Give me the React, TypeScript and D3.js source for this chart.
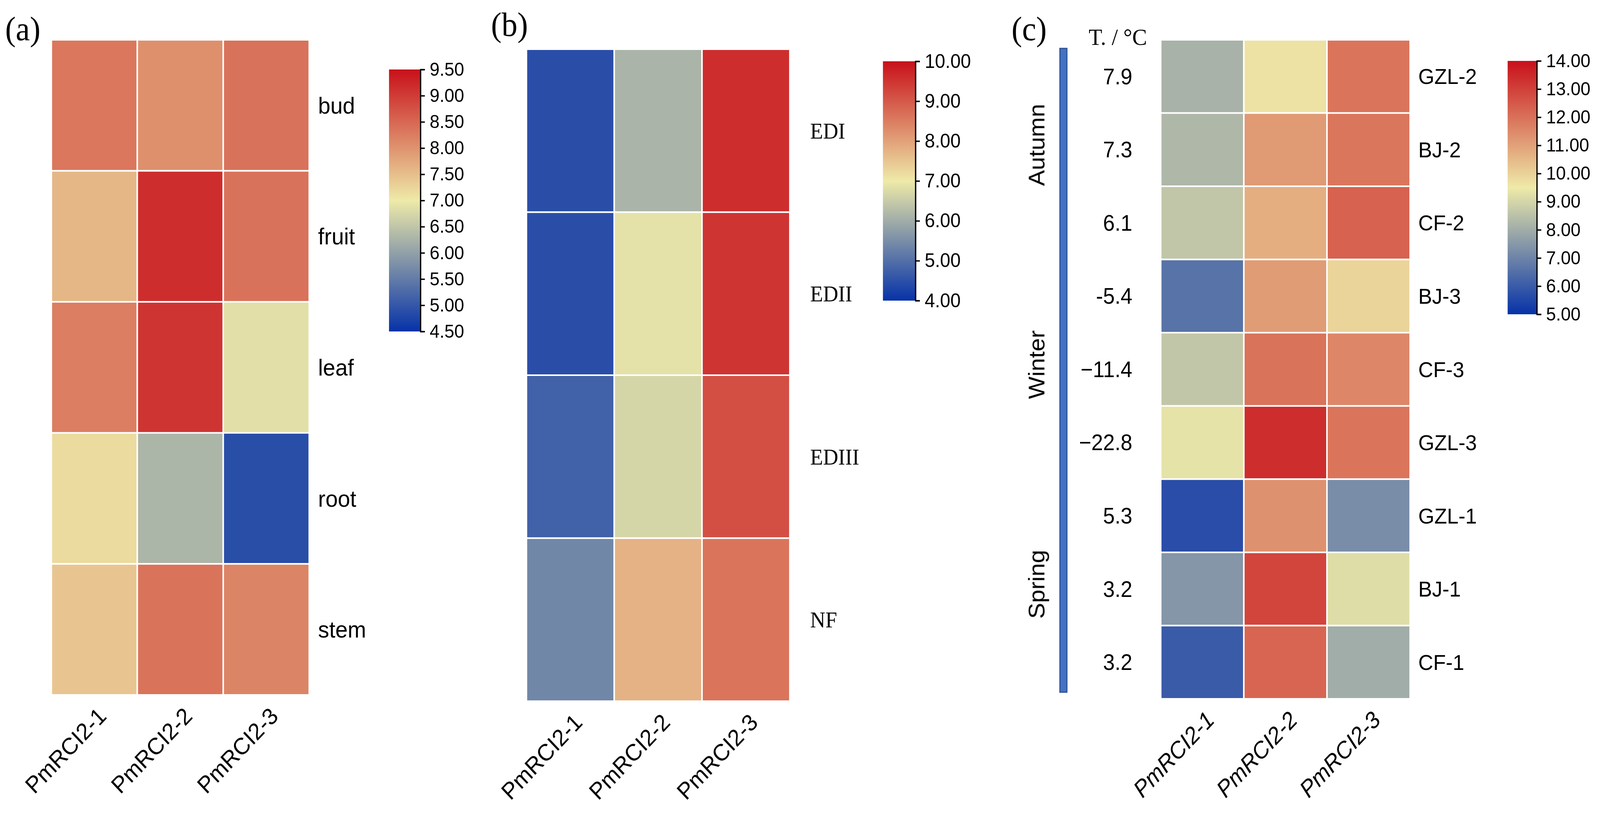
import { useEffect, useRef } from 'react';
import * as d3 from 'd3';

// column categories shared by all three panels
const genes = ['PmRCI2-1', 'PmRCI2-2', 'PmRCI2-3'];

// (a) tissues
const tissues = ['bud', 'fruit', 'leaf', 'root', 'stem'];
const tissueValues = [
  [8.32, 8.03, 8.38],
  [7.58, 9.16, 8.38],
  [8.24, 9.08, 6.87],
  [7.17, 6.29, 4.88],
  [7.42, 8.35, 8.17],
];
const tissueDomain = [4.5, 9.5];
const tissueTicks = [4.5, 5.0, 5.5, 6.0, 6.5, 7.0, 7.5, 8.0, 8.5, 9.0, 9.5];

// (b) developmental stages
const stages = ['EDI', 'EDII', 'EDIII', 'NF'];
const stageValues = [
  [4.46, 6.12, 9.59],
  [4.46, 6.87, 9.5],
  [4.76, 6.68, 9.13],
  [5.38, 7.77, 8.61],
];
const stageDomain = [4, 10];
const stageTicks = [4, 5, 6, 7, 8, 9, 10];

// (c) sampling sites / seasons
const sites = ['GZL-2', 'BJ-2', 'CF-2', 'BJ-3', 'CF-3', 'GZL-3', 'GZL-1', 'BJ-1', 'CF-1'];
const siteTemps = ['7.9', '7.3', '6.1', '-5.4', '\u221211.4', '\u221222.8', '5.3', '3.2', '3.2'];
const siteValues = [
  [8.14, 9.67, 11.92],
  [8.26, 11.15, 11.9],
  [8.63, 10.74, 12.31],
  [6.6, 11.11, 9.95],
  [8.63, 11.96, 11.54],
  [9.34, 13.4, 11.92],
  [5.67, 11.34, 7.23],
  [7.45, 12.9, 9.18],
  [6.0, 12.24, 8.0],
];
const seasons = ['Autumn', 'Winter', 'Spring'];
const seasonSites = [
  ['GZL-2', 'BJ-2', 'CF-2'],
  ['BJ-3', 'CF-3', 'GZL-3'],
  ['GZL-1', 'BJ-1', 'CF-1'],
];
const siteDomain = [5, 14];
const siteTicks = [5, 6, 7, 8, 9, 10, 11, 12, 13, 14];

const W = 4331;
const H = 2085;
const SANS = '"Liberation Sans", Arial, sans-serif';
const SERIF = '"Liberation Serif", "Times New Roman", serif';
const STOPS = ['#0632a8', '#eeeaa8', '#c8101a'];

type Sel = d3.Selection<SVGGElement, unknown, null, undefined>;

interface PanelOpts {
  id: string;
  x: number;
  y: number;
  w: number;
  h: number;
  rows: string[];
  values: number[][];
  domain: number[];
  ticks: number[];
  rowLabelX: number;
  rowFont: string;
  rowSize: number;
  italicCols: boolean;
  bar: { x: number; w: number; top: number; bottom: number; size: number };
}

function drawPanel(root: Sel, defs: d3.Selection<SVGDefsElement, unknown, null, undefined>, o: PanelOpts) {
  const [lo, hi] = o.domain;
  const color = d3
    .scaleLinear<string>()
    .domain([lo, (lo + hi) / 2, hi])
    .range(STOPS)
    .interpolate(d3.interpolateRgb);

  const xScale = d3.scaleBand().domain(genes).range([o.x, o.x + o.w]);
  const yScale = d3.scaleBand().domain(o.rows).range([o.y, o.y + o.h]);

  const cells = o.rows.flatMap((r, i) => genes.map((g, j) => ({ r, g, v: o.values[i][j] })));

  root
    .selectAll(null)
    .data(cells)
    .enter()
    .append('rect')
    .attr('x', (d) => xScale(d.g)!)
    .attr('y', (d) => yScale(d.r)!)
    .attr('width', xScale.bandwidth())
    .attr('height', yScale.bandwidth())
    .attr('fill', (d) => color(d.v))
    .attr('stroke', '#ffffff')
    .attr('stroke-width', 4);

  // row labels on the right
  root
    .selectAll(null)
    .data(o.rows)
    .enter()
    .append('text')
    .attr('x', o.rowLabelX)
    .attr('y', (d) => yScale(d)! + yScale.bandwidth() / 2)
    .attr('dy', '0.35em')
    .attr('font-family', o.rowFont)
    .attr('font-size', o.rowSize)
    .attr('fill', '#000')
    .text((d) => d);

  // rotated gene labels below
  const bottom = o.y + o.h;
  root
    .selectAll(null)
    .data(genes)
    .enter()
    .append('text')
    .attr('transform', (d) => `translate(${xScale(d)! + xScale.bandwidth() / 2 + 36},${bottom + 58}) rotate(-45)`)
    .attr('text-anchor', 'end')
    .attr('font-family', SANS)
    .attr('font-size', 60)
    .attr('font-style', o.italicCols ? 'italic' : 'normal')
    .attr('fill', '#000')
    .text((d) => d);

  // colour bar
  const gid = `grad-${o.id}`;
  const grad = defs
    .append('linearGradient')
    .attr('id', gid)
    .attr('x1', 0)
    .attr('y1', 1)
    .attr('x2', 0)
    .attr('y2', 0);
  grad
    .selectAll('stop')
    .data(STOPS)
    .enter()
    .append('stop')
    .attr('offset', (_, i) => i / (STOPS.length - 1))
    .attr('stop-color', (d) => d);

  const b = o.bar;
  root
    .append('rect')
    .attr('x', b.x)
    .attr('y', b.top)
    .attr('width', b.w)
    .attr('height', b.bottom - b.top)
    .attr('fill', `url(#${gid})`);

  const barScale = d3.scaleLinear().domain(o.domain).range([b.bottom, b.top]);
  root
    .append('g')
    .attr('transform', `translate(${b.x + b.w},0)`)
    .call(
      d3
        .axisRight(barScale)
        .tickValues(o.ticks)
        .tickFormat(d3.format('.2f'))
        .tickSizeInner(12)
        .tickSizeOuter(12)
        .tickPadding(13)
    )
    .call((g) => g.selectAll('path, line').attr('stroke', '#000').attr('stroke-width', 3.5))
    .call((g) =>
      g.selectAll('text').attr('font-family', SANS).attr('font-size', b.size).attr('fill', '#000')
    );

  return { xScale, yScale };
}

const App = () => {
  const svgRef = useRef<SVGSVGElement>(null);

  useEffect(() => {
    if (!svgRef.current) return;
    const svg = d3.select(svgRef.current);
    svg.selectAll('*').remove();

    const defs = svg.append('defs');
    const root = svg.append('g') as unknown as Sel;

    root.append('rect').attr('width', W).attr('height', H).attr('fill', '#fff');

    // panel letters
    const letters = [
      { t: '(a)', x: 14, y: 103 },
      { t: '(b)', x: 1329, y: 92 },
      { t: '(c)', x: 2738, y: 103 },
    ];
    root
      .selectAll(null)
      .data(letters)
      .enter()
      .append('text')
      .attr('x', (d) => d.x)
      .attr('y', (d) => d.y)
      .attr('font-family', SERIF)
      .attr('font-size', 86)
      .attr('fill', '#000')
      .text((d) => d.t);

    drawPanel(root, defs, {
      id: 'a',
      x: 139,
      y: 102,
      w: 698,
      h: 1678,
      rows: tissues,
      values: tissueValues,
      domain: tissueDomain,
      ticks: tissueTicks,
      rowLabelX: 861,
      rowFont: SANS,
      rowSize: 60,
      italicCols: false,
      bar: { x: 1053, w: 85, top: 178, bottom: 849, size: 48 },
    });

    drawPanel(root, defs, {
      id: 'b',
      x: 1425,
      y: 126,
      w: 713,
      h: 1670,
      rows: stages,
      values: stageValues,
      domain: stageDomain,
      ticks: stageTicks,
      rowLabelX: 2193,
      rowFont: SERIF,
      rowSize: 57,
      italicCols: false,
      bar: { x: 2390, w: 88, top: 157, bottom: 770, size: 50 },
    });

    const c = drawPanel(root, defs, {
      id: 'c',
      x: 3142,
      y: 102,
      w: 675,
      h: 1688,
      rows: sites,
      values: siteValues,
      domain: siteDomain,
      ticks: siteTicks,
      rowLabelX: 3839,
      rowFont: SANS,
      rowSize: 56,
      italicCols: true,
      bar: { x: 4081, w: 79, top: 156, bottom: 805, size: 48 },
    });

    // temperature column
    root
      .append('text')
      .attr('x', 2947)
      .attr('y', 115)
      .attr('font-family', SERIF)
      .attr('font-size', 60)
      .attr('fill', '#000')
      .text('T. / \u00b0C');

    root
      .selectAll(null)
      .data(sites)
      .enter()
      .append('text')
      .attr('x', 3065)
      .attr('y', (d) => c.yScale(d)! + c.yScale.bandwidth() / 2)
      .attr('dy', '0.35em')
      .attr('text-anchor', 'end')
      .attr('font-family', SANS)
      .attr('font-size', 57)
      .attr('fill', '#000')
      .text((_, i) => siteTemps[i]);

    // season bar
    root
      .append('rect')
      .attr('x', 2869)
      .attr('y', 124)
      .attr('width', 19)
      .attr('height', 1649)
      .attr('fill', '#4472c4')
      .attr('stroke', '#2f528f')
      .attr('stroke-width', 3);

    root
      .selectAll(null)
      .data(seasons)
      .enter()
      .append('text')
      .attr('transform', (_, i) => {
        const rows = seasonSites[i];
        const top = c.yScale(rows[0])!;
        const bot = c.yScale(rows[rows.length - 1])! + c.yScale.bandwidth();
        return `translate(2827,${(top + bot) / 2 - 12}) rotate(-90)`;
      })
      .attr('text-anchor', 'middle')
      .attr('font-family', SANS)
      .attr('font-size', 61)
      .attr('fill', '#000')
      .text((d) => d);
  }, []);

  // scale the 4331x2085 drawing to whatever viewport the page really has
  return (
    <svg
      ref={svgRef}
      viewBox={`0 0 ${W} ${H}`}
      preserveAspectRatio="none"
      style={{ position: 'fixed', left: 0, top: 0, width: '100vw', height: '100vh', display: 'block' }}
    />
  );
};

export default App;
